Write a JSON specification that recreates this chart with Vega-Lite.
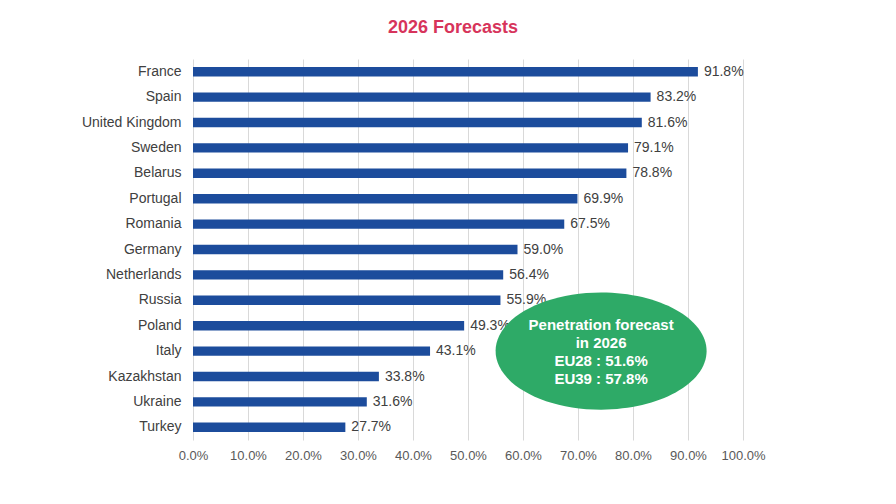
{
  "$schema": "https://vega.github.io/schema/vega-lite/v6.json",
  "autosize": {"type": "none"},
  "width": 550,
  "height": 381,
  "padding": {"left": 193, "top": 59, "right": 153, "bottom": 64},
  "background": "white",
  "title": {
    "text": "2026 Forecasts",
    "color": "#d7345b",
    "font": "Liberation Sans",
    "fontSize": 18,
    "fontWeight": "bold",
    "anchor": "middle",
    "dx": -15,
    "offset": 22
  },
  "datasets": {
    "bars": [
      {"country": "France", "value": 91.8},
      {"country": "Spain", "value": 83.2},
      {"country": "United Kingdom", "value": 81.6},
      {"country": "Sweden", "value": 79.1},
      {"country": "Belarus", "value": 78.8},
      {"country": "Portugal", "value": 69.9},
      {"country": "Romania", "value": 67.5},
      {"country": "Germany", "value": 59.0},
      {"country": "Netherlands", "value": 56.4},
      {"country": "Russia", "value": 55.9},
      {"country": "Poland", "value": 49.3},
      {"country": "Italy", "value": 43.1},
      {"country": "Kazakhstan", "value": 33.8},
      {"country": "Ukraine", "value": 31.6},
      {"country": "Turkey", "value": 27.7}
    ],
    "note": [
      {"country": "Italy", "value": 74.2, "text": ["Penetration forecast", "in 2026", "EU28 : 51.6%", "EU39 : 57.8%"]}
    ]
  },
  "config": {
    "view": {"stroke": null},
    "font": "Liberation Sans"
  },
  "encoding": {
    "y": {
      "field": "country",
      "type": "nominal",
      "sort": null,
      "scale": {"paddingInner": 0.63, "paddingOuter": 0.315},
      "axis": {
        "title": null,
        "domain": false,
        "ticks": false,
        "labelPadding": 12,
        "labelFontSize": 14,
        "labelColor": "#404040",
        "labelFont": "Liberation Sans"
      }
    },
    "x": {
      "field": "value",
      "type": "quantitative",
      "scale": {"domain": [0, 100], "nice": false},
      "axis": {
        "title": null,
        "domain": false,
        "ticks": false,
        "values": [0, 10, 20, 30, 40, 50, 60, 70, 80, 90, 100],
        "labelExpr": "format(datum.value, '.1f') + '%'",
        "labelOverlap": false,
        "labelFlush": false,
        "labelPadding": 9,
        "labelFontSize": 13,
        "labelColor": "#595959",
        "labelFont": "Liberation Sans",
        "grid": true,
        "gridColor": "#d9d9d9",
        "gridWidth": 1
      }
    }
  },
  "layer": [
    {
      "data": {"name": "bars"},
      "mark": {"type": "bar", "color": "#1c4c9c"}
    },
    {
      "data": {"name": "bars"},
      "mark": {"type": "text", "align": "left", "dx": 6, "fontSize": 14, "color": "#404040", "font": "Liberation Sans"},
      "encoding": {"text": {"field": "label", "type": "nominal"}},
      "transform": [{"calculate": "format(datum.value, '.1f') + '%'", "as": "label"}]
    },
    {
      "data": {"name": "note"},
      "mark": {
        "type": "point",
        "filled": true,
        "opacity": 1,
        "color": "#2eaa67",
        "shape": "M -1 0 A 1 0.555 0 1 1 1 0 A 1 0.555 0 1 1 -1 0 Z",
        "size": 44521
      }
    },
    {
      "data": {"name": "note"},
      "mark": {
        "type": "text",
        "color": "white",
        "fontWeight": "bold",
        "fontSize": 15,
        "lineHeight": 18,
        "align": "center",
        "baseline": "middle",
        "dy": -26,
        "font": "Liberation Sans"
      },
      "encoding": {"text": {"field": "text"}}
    }
  ]
}
